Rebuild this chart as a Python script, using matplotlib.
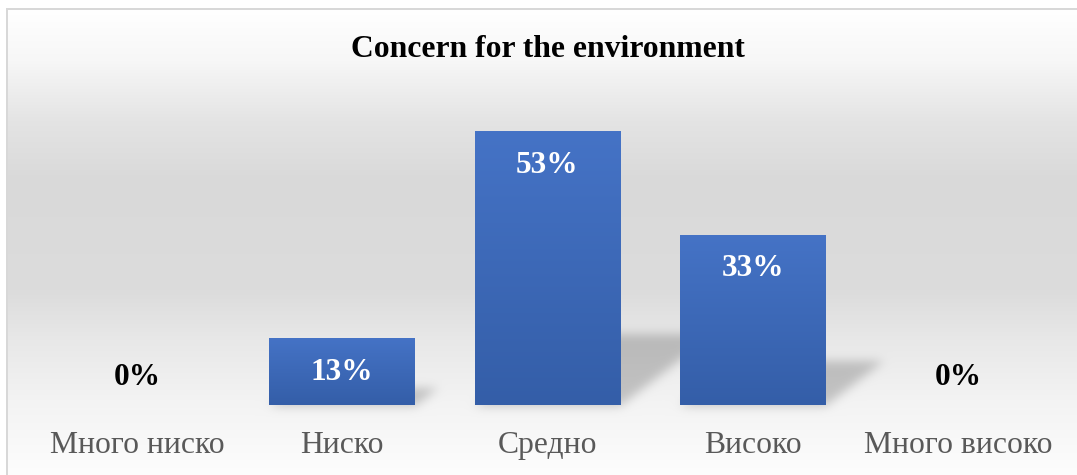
import numpy as np
import matplotlib
matplotlib.use("Agg")
import matplotlib.pyplot as plt

categories = ["Много ниско", "Ниско", "Средно", "Високо", "Много високо"]
values = [0, 13, 53, 33, 0]
value_labels = ["0%", "13%", "53%", "33%", "0%"]
title = "Concern for the environment"

W, H, DPI = 1077, 475, 100
SERIF = ["Liberation Serif", "DejaVu Serif"]

fig = plt.figure(figsize=(W / DPI, H / DPI), dpi=DPI)
fig.patch.set_facecolor("white")

bg_ax = fig.add_axes([0, 0, 1, 1], zorder=0)
bg_ax.axis("off")

ax = fig.add_axes([34.4 / W, 70 / H, 1026 / W, 310 / H], zorder=1)
ax.set_xlim(-0.5, len(categories) - 0.5)
ax.set_ylim(0, 60)
ax.patch.set_alpha(0)
for sp in ax.spines.values():
    sp.set_visible(False)
ax.set_yticks([])

xpos = np.arange(len(categories))
bars = ax.bar(xpos, values, width=0.71, color="none", edgecolor="none", zorder=3)

# ---- background gradient + shadows (pixel image) ----
stops_y = np.array([0, 8, 60, 120, 180, 290, 340, 400, 475], dtype=float)
stops_v = np.array([255, 255, 247, 228, 217, 220, 232, 243, 253], dtype=float)
rows = np.arange(H)
col = np.interp(rows, stops_y, stops_v) / 255.0
img = np.repeat(col[:, None], W, axis=1)

# shadow mask
yy, xx = np.mgrid[0:H, 0:W].astype(float)
mask = np.zeros((H, W))
trans = ax.transData
for b in bars:
    h = b.get_height()
    if h <= 0:
        continue
    x0, x1 = b.get_x(), b.get_x() + b.get_width()
    (px0, py0), (px1, py1) = trans.transform([(x0, 0), (x1, h)])
    yb = H - py0
    yt = H - py1
    s = 0.26 * (yb - yt)
    a = 1.3 * s
    t = (yb - yy) / s
    inside = (t >= 0) & (t <= 1) & (xx >= px0 + a * t) & (xx <= px1 + a * t)
    mask = np.maximum(mask, inside.astype(float))

def gblur(arr, sigma):
    r = int(3 * sigma)
    k = np.exp(-0.5 * (np.arange(-r, r + 1) / sigma) ** 2)
    k /= k.sum()
    out = np.apply_along_axis(lambda m: np.convolve(m, k, mode="same"), 1, arr)
    out = np.apply_along_axis(lambda m: np.convolve(m, k, mode="same"), 0, out)
    return out

mask = gblur(mask, 5.0)
img = img * (1 - 0.2 * mask)

# frame
img[:8, :] = 1.0
img[:, :6] = 1.0
img[8:10, 6:] = 0.85
img[8:, 6:8] = 0.85

rgb = np.dstack([img, img, img])
bg_ax.imshow(rgb, extent=(0, 1, 0, 1), aspect="auto", interpolation="nearest")
bg_ax.set_xlim(0, 1)
bg_ax.set_ylim(0, 1)

# ---- bar gradients ----
top_c = np.array([0x45, 0x73, 0xC6]) / 255.0
bot_c = np.array([0x34, 0x5E, 0xA8]) / 255.0
grad = np.linspace(0, 1, 256)[:, None]
grad_img = (top_c[None, :] * (1 - grad) + bot_c[None, :] * grad)[:, None, :]
for b in bars:
    h = b.get_height()
    if h <= 0:
        continue
    x0, x1 = b.get_x(), b.get_x() + b.get_width()
    im = ax.imshow(grad_img, extent=(x0, x1, 0, h), aspect="auto", zorder=3,
                   interpolation="bilinear")
    im.set_clip_path(b)
ax.set_xlim(-0.5, len(categories) - 0.5)
ax.set_ylim(0, 60)

# ---- value labels ----
for xi, v, lbl in zip(xpos, values, value_labels):
    if v == 0:
        ax.annotate(lbl, (xi, 0), xytext=(0, 20), textcoords="offset pixels",
                    ha="center", va="baseline", fontsize=22.5, fontweight="bold",
                    family=SERIF, color="black", zorder=5)
    else:
        ax.annotate(lbl, (xi, v), xytext=(0, -42), textcoords="offset pixels",
                    ha="center", va="baseline", fontsize=22.5, fontweight="bold",
                    family=SERIF, color="white", zorder=5)

# ---- category labels ----
ax.set_xticks(xpos)
ax.set_xticklabels(categories, fontsize=22.8, family=SERIF, color="#595959")
ax.tick_params(axis="x", length=0, pad=48 * 72 / DPI)
for t in ax.get_xticklabels():
    t.set_va("baseline")

# ---- title ----
fig.text(548 / W, 1 - 57 / H, title, ha="center", va="baseline",
         fontsize=22.8, fontweight="bold", family=SERIF, color="black")

fig.savefig("out.png", dpi=DPI)
